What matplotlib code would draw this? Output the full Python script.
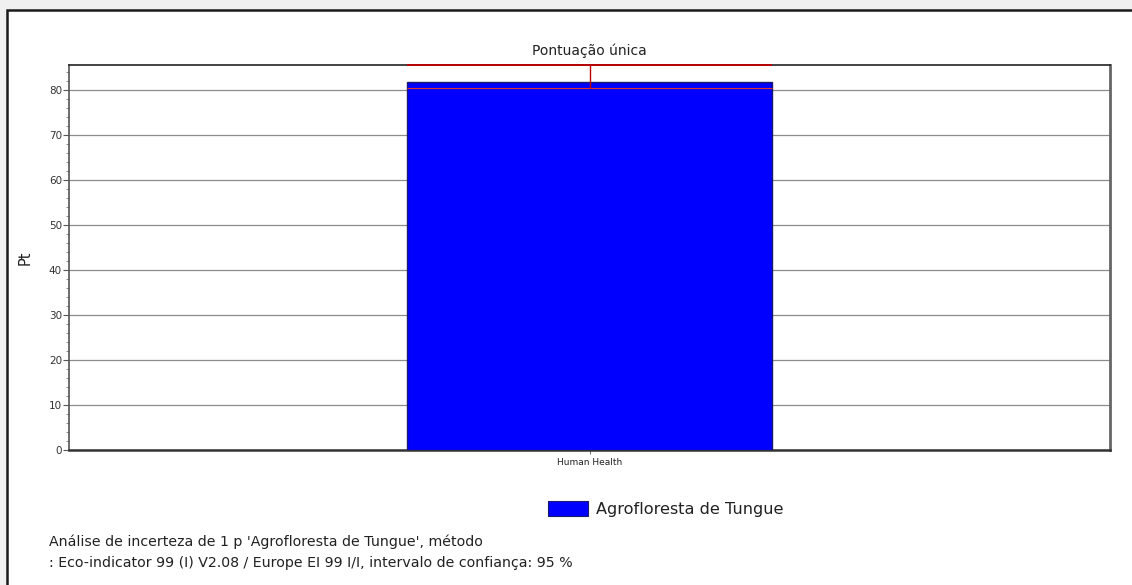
import numpy as np
import matplotlib.pyplot as plt
from matplotlib.patches import Rectangle, Patch
from matplotlib.ticker import MultipleLocator

# data
categories = ["Human Health"]
scores = [81.8]
err_low = [80.3]
err_high = [85.5]
series_name = "Agrofloresta de Tungue"

plt.rcParams["font.family"] = ["DejaVu Sans"]

W, H = 1132, 585
fig = plt.figure(figsize=(W / 100, H / 100), dpi=100, facecolor="#f0f0f0")

# white panel with the dark frame (top and left edges visible)
panel = Rectangle((7 / W, -0.05), 1.2, 1 - 10 / H + 0.05, transform=fig.transFigure,
                  facecolor="white", edgecolor="#1a1a1a", lw=1.8, zorder=-10)
fig.patches.append(panel)

ax = fig.add_axes([69 / W, 1 - 450 / H, (1110 - 69) / W, (450 - 65) / H])
ax.set_facecolor("white")

x = np.arange(len(categories))
bw = 0.35
ax.bar(x, scores, width=bw, color="#0000ff", edgecolor="#1a1a6e", lw=1.0, zorder=3)

# confidence interval marks
ax.hlines(err_high, x - bw / 2, x + bw / 2, color="#c00000", lw=1.3, zorder=5, clip_on=False)
ax.hlines(err_low, x - bw / 2, x + bw / 2, color="#e03030", lw=0.8, zorder=5)
ax.vlines(x, err_low, err_high, color="#c00000", lw=1.0, zorder=5)

ax.set_xlim(-0.5, 0.5)
ax.set_ylim(0, 85.5)
ax.set_xticks(x)
ax.set_xticklabels(categories, fontsize=6.5, color="#222222")
ax.yaxis.set_major_locator(MultipleLocator(10))
ax.yaxis.set_minor_locator(MultipleLocator(2))
ax.tick_params(axis="y", which="major", length=4, width=0.8, color="#555555",
               labelsize=7.5, labelcolor="#333333", pad=1)
ax.tick_params(axis="y", which="minor", length=2, width=0.6, color="#777777")
ax.tick_params(axis="x", length=3, width=0.6, color="#555555", pad=3)
ax.grid(axis="y", which="major", color="#8c8c8c", lw=0.9, zorder=0)
ax.set_axisbelow(True)

ax.spines["top"].set_color("#222222")
ax.spines["top"].set_linewidth(1.2)
ax.spines["left"].set_color("#555555")
ax.spines["left"].set_linewidth(1.2)
ax.spines["right"].set_color("#666666")
ax.spines["right"].set_linewidth(2.0)
ax.spines["bottom"].set_color("#333333")
ax.spines["bottom"].set_linewidth(1.8)

ax.set_title("Pontuação única", fontsize=10, pad=7, color="#222222")
ax.set_ylabel("Pt", fontsize=10.5, labelpad=12, color="#222222")

handle = Patch(facecolor="#0000ff", edgecolor="#1a1a6e", lw=0.8)
fig.legend([handle], [series_name], loc="center left",
           bbox_to_anchor=(548 / W, 1 - 509 / H), frameon=False, fontsize=11.6,
           borderpad=0, borderaxespad=0, handlelength=2.5, handleheight=1.05,
           handletextpad=0.45, labelcolor="#222222")

fig.text(49 / W, 1 - 542 / H, "Análise de incerteza de 1 p 'Agrofloresta de Tungue', método",
         fontsize=10.2, va="center", ha="left", color="#222222")
fig.text(49 / W, 1 - 563 / H, ": Eco-indicator 99 (I) V2.08 / Europe EI 99 I/I, intervalo de confiança: 95 %",
         fontsize=10.2, va="center", ha="left", color="#222222")

fig.savefig("out.png", dpi=100, facecolor=fig.get_facecolor())
